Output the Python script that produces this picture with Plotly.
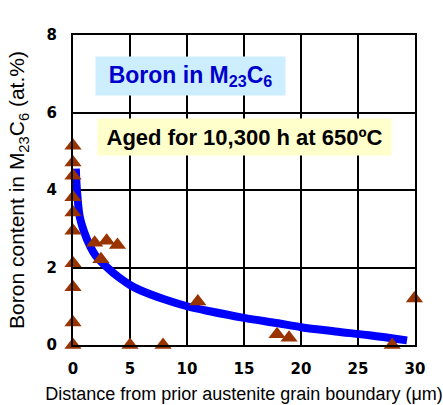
import plotly.graph_objects as go

# Measured boron content in M23C6 carbides (at.%) vs distance from grain boundary (um)
dist_um = [0, 0, 0, 0, 0, 0, 0, 0, 0, 0,
           1.9, 2.95, 3.9, 2.45, 5.0, 7.9, 10.95, 17.9, 18.95, 28.0, 29.95]
boron_at = [5.14, 4.71, 4.37, 3.81, 3.42, 2.95, 2.11, 1.49, 0.58, 0.0,
            2.64, 2.69, 2.58, 2.21, 0.0, 0.0, 1.12, 0.28, 0.19, 0.0, 1.2]

# Trend curve through the data
trend_x = [0.25, 0.3, 0.4, 0.6, 1.0, 1.5, 2.0, 3.0, 4.0, 5.0, 6.0, 8.0,
           10.0, 12.0, 15.0, 18.0, 20.0, 23.0, 26.0, 29.3]
trend_y = [4.55, 4.2, 3.8, 3.3, 2.9, 2.55, 2.3, 2.0, 1.75, 1.55, 1.4, 1.18,
           1.0, 0.87, 0.7, 0.56, 0.46, 0.35, 0.25, 0.12]

x_ticks = [0, 5, 10, 15, 20, 25, 30]
y_ticks = [0, 2, 4, 6, 8]

fig = go.Figure()
fig.add_trace(go.Scatter(
    x=trend_x, y=trend_y, mode="lines",
    line=dict(color="#0000FF", width=8, shape="spline"),
    hoverinfo="skip", showlegend=False, cliponaxis=False,
))
fig.add_trace(go.Scatter(
    x=dist_um, y=boron_at, mode="markers",
    marker=dict(symbol="triangle-up", size=15, color="#993300",
                line=dict(width=0)),
    showlegend=False, cliponaxis=False,
))

fig.add_annotation(
    x=10.3, y=6.94, xref="x", yref="y",
    text="Boron in M<sub>23</sub>C<sub>6</sub>",
    showarrow=False, bgcolor="#CCEEFF", borderpad=0,
    width=189, height=38,
    font=dict(family="Liberation Sans, Arial", size=23, color="#0000CC", weight="bold"),
)
fig.add_annotation(
    x=15.04, y=5.37, xref="x", yref="y",
    text="Aged for 10,300 h at 650ºC",
    showarrow=False, bgcolor="#FFFFCC", borderpad=0,
    width=293, height=36,
    font=dict(family="Liberation Sans, Arial", size=22, color="#000000", weight="bold"),
)

axis_common = dict(
    showline=True, linecolor="#000000", linewidth=2, mirror=True,
    showgrid=True, gridcolor="#000000", gridwidth=1.6,
    zeroline=False, fixedrange=True, automargin=False,
)

fig.update_xaxes(
    range=[0, 30], tickvals=x_ticks, ticktext=[str(v) for v in x_ticks],
    ticks="outside", ticklen=9, tickcolor="rgba(0,0,0,0)",
    tickfont=dict(family="DejaVu Sans", size=15, color="#000000", weight="bold"),
    title=dict(text="Distance from prior austenite grain boundary (μm)",
               font=dict(family="Liberation Sans, Arial", size=18, color="#000000"),
               standoff=10),
    **axis_common,
)
fig.update_yaxes(
    range=[0, 8], tickvals=y_ticks, ticktext=[str(v) for v in y_ticks],
    ticks="outside", ticklen=11, tickcolor="rgba(0,0,0,0)",
    tickfont=dict(family="DejaVu Sans", size=15, color="#000000", weight="bold"),
    title=dict(text="Boron content in M<sub>23</sub>C<sub>6</sub> (at.%)",
               font=dict(family="Liberation Sans, Arial", size=21, color="#000000"),
               standoff=16),
    **axis_common,
)

fig.update_layout(
    width=443, height=405,
    margin=dict(l=73, r=28, t=35, b=60),
    paper_bgcolor="#FFFFFF", plot_bgcolor="#FFFFFF",
    showlegend=False,
)

fig.write_html("out.html", config={"displayModeBar": False})
